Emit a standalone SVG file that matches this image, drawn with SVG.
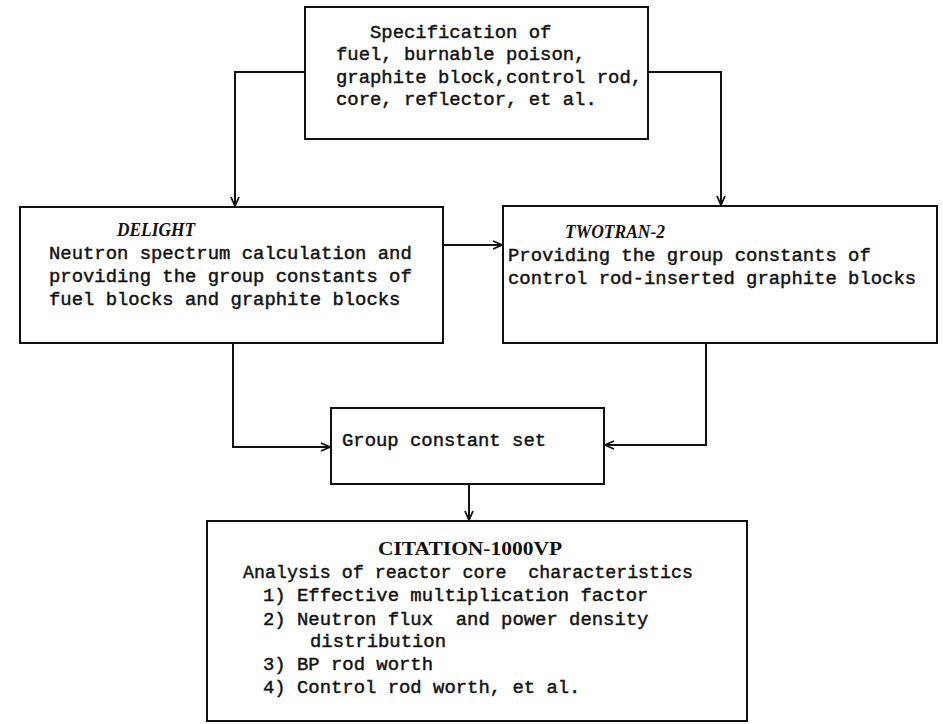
<svg xmlns="http://www.w3.org/2000/svg" width="943" height="724" viewBox="0 0 943 724">
<style>
.box{fill:#fff;stroke:#111;stroke-width:2}
.con{fill:none;stroke:#111;stroke-width:2}
.t{font-family:"Liberation Mono","DejaVu Sans Mono",monospace;font-size:18.9px;fill:#111;stroke:#111;stroke-width:0.45}
.h{font-family:"Liberation Serif","DejaVu Serif",serif;font-size:18px;font-weight:bold;font-style:italic;fill:#111}
.h2{font-family:"Liberation Serif","DejaVu Serif",serif;font-size:18px;font-weight:bold;fill:#111}
</style>
<defs>
<marker id="arr" viewBox="0 0 10 10" refX="10" refY="5" markerWidth="10" markerHeight="10" markerUnits="userSpaceOnUse" orient="auto">
<path d="M1,1 L10,5 L1,9" fill="none" stroke="#111" stroke-width="1.8"/>
</marker>
</defs>
<rect width="943" height="724" fill="#fff"/>
<g id="connectors">
<polyline class="con" points="305,72 235,72 235,206" marker-end="url(#arr)"/>
<polyline class="con" points="648,72 721,72 721,205" marker-end="url(#arr)"/>
<polyline class="con" points="443,245 502,245" marker-end="url(#arr)"/>
<polyline class="con" points="233,343 233,447 330,447" marker-end="url(#arr)"/>
<polyline class="con" points="706,343 706,445 605,445" marker-end="url(#arr)"/>
<polyline class="con" points="469,484 469,520" marker-end="url(#arr)"/>
</g>
<g id="spec">
<rect class="box" x="305" y="7" width="343" height="132"/>
<text class="t" x="370" y="38">Specification of</text>
<text class="t" x="336" y="60">fuel, burnable poison,</text>
<text class="t" x="336" y="83">graphite block,control rod,</text>
<text class="t" x="336" y="105">core, reflector, et al.</text>
</g>
<g id="delight">
<rect class="box" x="20" y="207" width="423" height="136"/>
<text class="h" x="117" y="236" textLength="78" lengthAdjust="spacingAndGlyphs">DELIGHT</text>
<text class="t" x="49" y="259">Neutron spectrum calculation and</text>
<text class="t" x="49" y="282">providing the group constants of</text>
<text class="t" x="49" y="305">fuel blocks and graphite blocks</text>
</g>
<g id="twotran">
<rect class="box" x="503" y="206" width="434" height="137"/>
<text class="h" x="565" y="238" textLength="100" lengthAdjust="spacingAndGlyphs">TWOTRAN-2</text>
<text class="t" x="508" y="261">Providing the group constants of</text>
<text class="t" x="508" y="284">control rod-inserted graphite blocks</text>
</g>
<g id="groupset">
<rect class="box" x="331" y="408" width="273" height="76"/>
<text class="t" x="342" y="446">Group constant set</text>
</g>
<g id="citation">
<rect class="box" x="207" y="521" width="540" height="200"/>
<text class="h2" x="378" y="555" textLength="184" lengthAdjust="spacingAndGlyphs">CITATION-1000VP</text>
<text class="t" x="243" y="578" textLength="450" lengthAdjust="spacingAndGlyphs" xml:space="preserve">Analysis of reactor core  characteristics</text>
<text class="t" x="263" y="601">1) Effective multiplication factor</text>
<text class="t" x="263" y="625" xml:space="preserve">2) Neutron flux  and power density</text>
<text class="t" x="310" y="647">distribution</text>
<text class="t" x="263" y="670">3) BP rod worth</text>
<text class="t" x="263" y="693">4) Control rod worth, et al.</text>
</g>
</svg>
